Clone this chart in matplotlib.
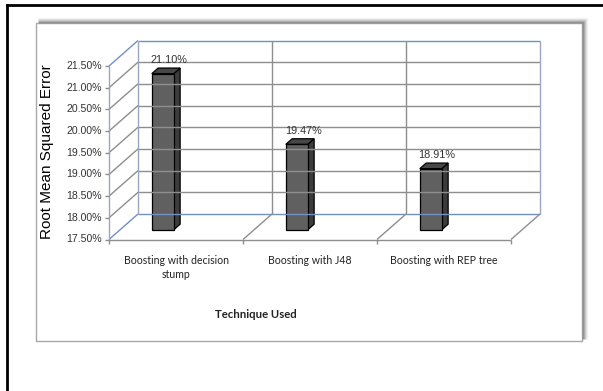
import matplotlib
matplotlib.use("Agg")
import matplotlib.pyplot as plt
import numpy as np
from matplotlib.patches import Polygon, Rectangle
from matplotlib.lines import Line2D
from matplotlib.transforms import IdentityTransform

# RMSE per boosting technique (percent)
techniques = ["Boosting with decision\nstump", "Boosting with J48", "Boosting with REP tree"]
rmse = [21.10, 19.47, 18.91]
y_ticks = [17.5, 18.0, 18.5, 19.0, 19.5, 20.0, 20.5, 21.0, 21.5]

W, H = 603, 391
fig = plt.figure(figsize=(W / 100, H / 100), dpi=100)

# front plane of the 3D box, in pixels (y measured from the top)
fl, fr, ft, fb = 109, 511, 66, 239.5
ax = fig.add_axes([fl / W, 1 - fb / H, (fr - fl) / W, (fb - ft) / H])
ax.set_xlim(0, len(techniques))
ax.set_ylim(y_ticks[0], y_ticks[-1])
ax.axis("off")

DEPTH = np.array([29.0, 25.5])  # pixel offset from front plane to back wall
ident = IdentityTransform()


def proj(x, y, d):
    p = ax.transData.transform((x, y))
    return p + d * DEPTH


def seg(p0, p1, color, lw=1.0, alpha=1.0):
    fig.add_artist(Line2D([p0[0], p1[0]], [p0[1], p1[1]], color=color, lw=lw,
                          alpha=alpha, transform=ident, solid_capstyle="butt"))


grid_c = "#8e8e8e"
blue_c = "#7390c4"
side_c = "#9aa6c2"
y0, y1 = y_ticks[0], y_ticks[-1]
n = len(techniques)

# outer page frame (top and left edges)
fig.add_artist(Line2D([7, W], [H - 5, H - 5], color="black", lw=2, transform=ident))
fig.add_artist(Line2D([7, 7], [0, H - 5], color="black", lw=2, transform=ident))

# chart box with a soft shadow along the top and right
bl, bt, br, bb = 36, 23, 582, 341
for k, a in zip(range(1, 6), [0.35, 0.25, 0.16, 0.09, 0.04]):
    seg((bl + 2, H - bt + k), (br + k, H - bt + k), "black", lw=1, alpha=a)
    seg((br + k, H - bt + k), (br + k, H - bb + 2), "black", lw=1, alpha=a)
fig.add_artist(Rectangle((bl, H - bb), br - bl, bb - bt, fill=True, fc="white",
                         ec="#a8a8a8", lw=1, transform=ident))

# back wall gridlines
for v in y_ticks[1:-1]:
    seg(proj(0, v, 1), proj(n, v, 1), grid_c)
seg(proj(0, y1, 1), proj(n, y1, 1), blue_c)
seg(proj(0, y0, 1), proj(n, y0, 1), blue_c)
for i in range(1, n):
    seg(proj(i, y0, 1), proj(i, y1, 1), grid_c)
seg(proj(0, y0, 1), proj(0, y1, 1), side_c)
seg(proj(n, y0, 1), proj(n, y1, 1), side_c)

# left side wall
for v in y_ticks[1:-1]:
    seg(proj(0, v, 0), proj(0, v, 1), grid_c)
seg(proj(0, y1, 0), proj(0, y1, 1), blue_c)
seg(proj(0, y0, 0), proj(0, y0, 1), blue_c)
seg(proj(0, y0, 0), proj(0, y1, 0), side_c)

# floor
seg(proj(0, y0, 0), proj(n, y0, 0), grid_c)
for i in range(1, n + 1):
    seg(proj(i, y0, 0), proj(i, y0, 1), grid_c)

# ticks
for v in y_ticks:
    p = proj(0, v, 0)
    seg(p, p - np.array([4.5, 0]), grid_c)
    fig.text(p[0] - 7, p[1], f"{v:.2f}%", transform=ident, ha="right", va="center",
             fontsize=7.6, family="Liberation Sans", color="#333333")
for i in range(n + 1):
    p = proj(i, y0, 0)
    seg(p, p - np.array([0, 4]), grid_c)

# bars
bx, bw = 0.237, 0.164
d0, d1 = 0.38, 0.6
for i, v in enumerate(rmse):
    xa, xb = i + bx, i + bx + bw
    front = [proj(xa, y0, d0), proj(xb, y0, d0), proj(xb, v, d0), proj(xa, v, d0)]
    side = [proj(xb, y0, d0), proj(xb, y0, d1), proj(xb, v, d1), proj(xb, v, d0)]
    top = [proj(xa, v, d0), proj(xb, v, d0), proj(xb, v, d1), proj(xa, v, d1)]
    for pts, fc in [(side, "#3c3c3c"), (top, "#474747"), (front, "#606060")]:
        fig.add_artist(Polygon(pts, closed=True, fc=fc, ec="black", lw=0.9,
                               transform=ident, joinstyle="miter"))
    c = proj((xa + xb) / 2, v, d1)
    fig.text(c[0], c[1] + 3, f"{v:.2f}%", transform=ident, ha="center", va="bottom",
             fontsize=7.8, family="Liberation Sans", color="#333333")

# category labels
for i, name in enumerate(techniques):
    p = proj(i + 0.5, y0, 0)
    fig.text(p[0], p[1] - 15, name, transform=ident, ha="center", va="top",
             fontsize=7.6, family="Lato", color="#222222", linespacing=1.4)

# axis titles
fig.text(47, H - 152, "Root Mean Squared Error", transform=ident, rotation=90,
         ha="center", va="center", fontsize=11, family="Liberation Sans", color="black")
fig.text(256, H - 315, "Technique Used", transform=ident, ha="center", va="center",
         fontsize=8.2, family="Lato", fontweight="bold", color="#222222")

fig.savefig("out.png", dpi=100)
